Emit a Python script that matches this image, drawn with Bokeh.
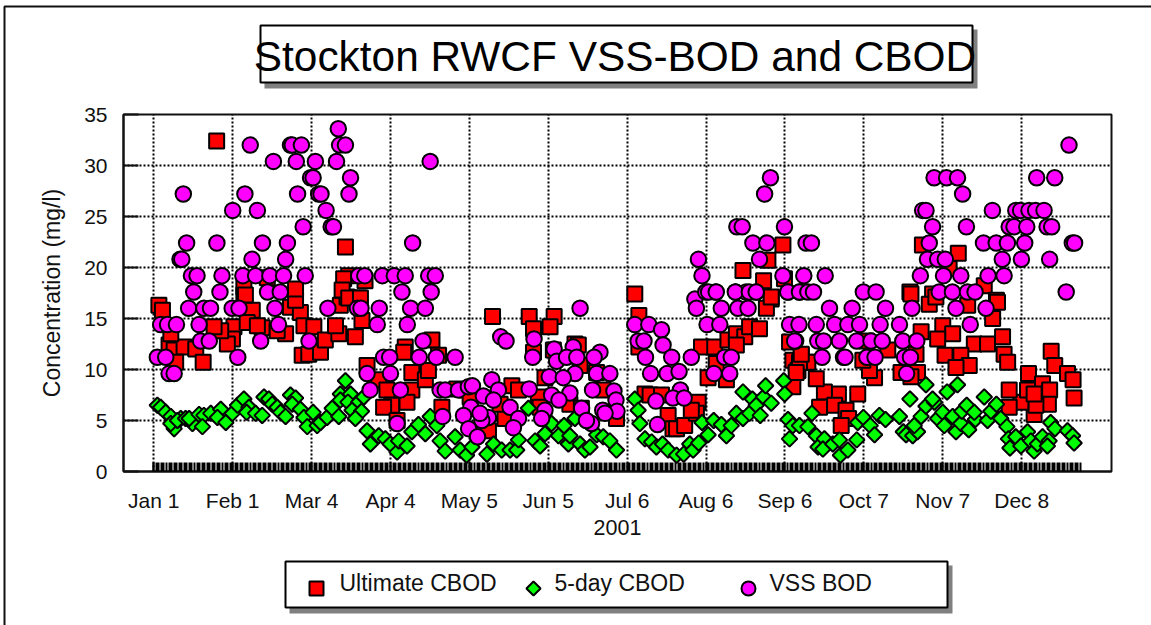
from bokeh.plotting import figure
from bokeh.embed import file_html
from bokeh.resources import INLINE
from bokeh.models import Range1d, FixedTicker
from bokeh.core.properties import value
import math

FONT = "Liberation Sans"

tick_days = [0, 31, 62, 93, 124, 155, 186, 217, 248, 279, 310, 341]
tick_names = ["Jan 1", "Feb 1", "Mar 4", "Apr 4", "May 5", "Jun 5", "Jul 6", "Aug 6", "Sep 6", "Oct 7", "Nov 7", "Dec 8"]
y_ticks = [0, 5, 10, 15, 20, 25, 30, 35]
sample_days = list(range(0, 365))

ucbod_day = [24.7, 75.3, 2, 3.4, 6, 8, 11.9, 16.5, 19.4, 8.6, 6.7, 35.4, 38.7, 31.5, 30.9, 28.9, 26.3, 23.7, 42.6, 36.7, 44.6, 53.7, 57.6, 55.7, 51.8, 48.5, 40.7, 59, 62.9, 58.3, 60.9, 65.5, 67.4, 72.7, 71.4, 79.2, 81.8, 73.3, 75.9, 80.5, 76.6, 74.6, 83, 74, 76.6, 81.2, 55.7, 35.4, 36,
             83.8, 88.4, 91.6, 93.5, 90.3, 101.4, 99.5, 98.8, 98.2, 101.4, 106.7, 107.9, 109.3, 111.9, 95.6, 113.2, 119, 123,
             133.1, 147.5, 157.3, 155.7, 149.2, 149.2, 157, 165.5, 166.8, 167.5, 153.7, 174, 140.7, 143.3, 151.1, 163.5, 168, 176.6, 181.8, 131.5, 138, 124.3, 136.1, 151.8,
             189, 190.6, 190.6, 193, 195, 199.5, 202.1, 204, 205.4, 208.6, 213.9, 213.2, 211.2, 215.2, 220.4, 217.8, 225, 221, 225.6, 228.9, 232.2, 234.1, 238, 228.9, 242.6, 240.7, 249.8, 251.1, 256.3, 254.4, 253.1, 251.1,
             247.2, 241.3, 231.5, 239.6, 247.8, 242.6, 297.1, 302, 316.1, 326.3, 331.1, 312.5, 306,
             297.5, 304.7, 307.3, 319.8, 331.5, 329.6, 310, 313.9, 308, 301.5, 322.4, 327.6, 333.5, 334.1, 310.9, 317.1, 320.4, 315.2, 335.5, 352.6, 354, 359, 361.2, 361.6, 343.7, 349.2, 352, 351.5, 345.9, 346.6, 340.7, 336.1, 336.1, 343.3, 345.9,
             276.6, 269, 263.5, 261.6, 267.5, 272, 273, 270.1, 283.2, 281.2, 278.6, 288.4, 279.9, 300.1, 297.5, 299.5, 293.6, 260.3, 257, 253.7, 252.4, 254.4]
ucbod_val = [32.4, 22, 16.3, 15.8, 12.4, 11.9, 12.2, 12, 10.7, 10.7, 13.5, 17.3, 15.8, 14.2, 13, 12.5, 13.8, 14.2, 14.1, 14.6, 19, 16.1, 15.6, 16.8, 13.5, 13.8, 14.3, 14.3, 14.2, 11.4, 11.5, 11.7, 12.9, 13.5, 14.3, 13.2, 14.8, 16.3, 17.1, 17, 19.2, 18.9, 18.7, 17.8, 17, 17, 17.9, 18.1, 17.3,
             10.4, 9, 8, 6.5, 6.3, 8, 6.8, 12.2, 11.7, 9.7, 9, 9.9, 12.9, 11.4, 5, 6.3, 8.1, 8,
             15.2, 15.2, 15.2, 14.2, 14, 11.7, 11.9, 12.5, 12.4, 10.4, 9.2, 9.7, 8.4, 8, 7.3, 6.6, 6.2, 8, 5.2, 4, 5.2, 7.3, 6.6, 6.3,
             17.4, 15.3, 12.2, 7.6, 7.5, 7.5, 5.5, 4.2, 4.2, 4.5, 6.8, 5.7, 6, 12.2, 12.2, 9.2, 9, 10.6, 12.9, 13.5, 13.2, 14.2, 14, 12.4, 16.9, 16, 12.7, 10.9, 10.7, 11.4, 9.9, 8.3,
             22.2, 20.7, 19.7, 18.7, 18.9, 17.1, 17.6, 22.2, 21.4, 18.2, 16.8, 19.9, 17.4,
             17.4, 16.4, 17.1, 16.3, 16.6, 15, 14.3, 13.5, 13, 13.7, 12.5, 12.5, 13.2, 11.5, 11.4, 11.4, 10.4, 10.2, 10.7, 11.8, 10.4, 9.6, 9, 7.2, 9.6, 8.6, 8, 6.6, 5.6, 6.5, 6.8, 6.3, 8, 8, 7.6,
             7.6, 7.6, 7.8, 6.3, 6.5, 6, 5.2, 4.5, 9.2, 9.9, 10.9, 11.9, 12.8, 9.7, 9.3, 11.5, 9.7, 9.1, 10.7, 10.7, 9.7, 11.5]

cbod5_day = [1.4, 2.7, 4.7, 6.7, 8, 6.7, 10.6, 9.3, 12.5, 15.2, 13.9, 17.8, 19.7, 19.1, 22.4, 26.3, 25, 28.3, 30.9, 32.9, 35.4, 37.4, 36.5, 40, 42.6, 43.3, 45.2, 46.5, 48.5, 49.8, 51.8, 53.7, 55.7, 54.4, 57.6, 59, 60.3, 62.6, 64.2, 65.5, 68.1, 70.1, 72.7, 75.3, 73.3, 73.3, 77.3, 76.3, 80.5, 82.5, 77.9, 81.6, 79.2, 83.8, 85.1, 88.4, 91, 92.9, 95.6, 96.2, 99.5, 101.4, 104, 106.7, 108.6, 111.2, 112.5, 114.5, 118.4, 120.4, 122.9, 125,
             130.9, 133.5, 136.7, 140, 142.6, 143.3, 147.2, 149.8, 151.8, 153.7, 156.3, 159, 161.2, 162.9, 163.5, 165.5, 167.5, 169.4, 171.4, 174, 176.6, 179.2, 181.8, 189, 190.3, 191, 193, 195.6, 197.5, 199.9, 202.1, 205.4, 208.2, 210.6, 211.9, 214.1, 215.4, 217.8, 220, 223, 225, 226.9, 228.9, 231.5, 231.5, 234.1, 235.2, 236.7, 238.3, 239.6, 240.4, 242.6,
             247.5, 247.9, 249.2, 249.8, 251.1, 253.7, 257, 258.6, 260.3, 261, 263.5, 262.9, 266.8, 269.4, 269.8, 272.7, 276.2, 276.6, 278.8, 281.5, 283.2, 285.1, 287.5, 293, 294.5, 295.6, 297.1, 298.2, 300.1, 298.8, 301.5, 303.4, 306.7, 306, 303.4, 311.7, 315.8, 308, 310, 310.6, 313.9, 315.2, 317.1, 317.5, 319.4, 320.2, 322.8, 322.4, 326.3, 327.6, 328.9, 331.1, 332.8, 335.2, 335.8, 336.4, 338.7, 340.7, 343.3, 344.6, 345.9, 347.2, 349.2, 351.8, 351.1, 352.4, 354.1, 359, 361, 361.6]
cbod5_val = [6.5, 6.3, 5.8, 5.4, 4.2, 4.7, 5.2, 5, 5.2, 4.7, 5.2, 5.6, 5.5, 4.4, 5.7, 6.1, 5.3, 4.8, 5.7, 6.5, 7.1, 6.3, 5.8, 5.7, 5.5, 7.3, 7.1, 6.6, 6.3, 5.8, 5.4, 7.5, 7.2, 6.6, 6.1, 5.3, 4.4, 5.8, 4.5, 4.8, 5.3, 6.2, 5.4, 8.9, 7.6, 7, 7.6, 6.8, 6.8, 7.3, 6, 5.9, 5.2, 4, 2.7, 3.5, 3.2, 2.7, 1.9, 3, 2.5, 3.9, 4.6, 3.7, 5.4, 4.5, 3, 2, 3.4, 2.1, 1.6, 2.4,
             1.7, 2.7, 2.1, 2.1, 2.1, 3.1, 6.2, 3, 2.5, 3.7, 4.7, 3.5, 4.5, 2.7, 3.5, 5.2, 2.7, 2.1, 2.4, 3.6, 3.4, 3, 2.1, 7.1, 6, 4.7, 3.2, 2.9, 2.4, 2.7, 2.1, 1.6, 1.7, 2.7, 2.1, 2.8, 4.8, 3.6, 5, 4.6, 3.5, 4.5, 5.7, 7.8, 5.2, 5.7, 7.1, 6.5, 5.5, 7.3, 8.4, 6.7,
             8.9, 7.6, 5.1, 3.2, 4.5, 4.5, 4.4, 5.7, 3.5, 2.4, 3.2, 2.2, 2.7, 3.1, 1.6, 2.1, 3.1, 4.8, 5.3, 4.5, 3.6, 5.5, 5.1, 5.4, 3.9, 3.6, 7.1, 3.5, 3.9, 4.5, 5.4, 6.4, 6.8, 7.1, 8.5, 7.8, 8.5, 5.2, 5.8, 4.5, 5.4, 3.9, 4.7, 5.9, 6.5, 4.1, 5.1, 5.8, 7.3, 5, 5.9, 6.6, 5.2, 4.4, 3.2, 2.3, 3.4, 2.5, 3.9, 3, 2, 2.7, 3.4, 3, 2.5, 4.8, 4.2, 4, 3.5, 2.8]

vss_day = [72.5, 37.9, 53.7, 54.4, 58, 73, 75.3, 47, 56, 63.5, 71.8, 108.6, 61.6, 62.6, 77.3, 11.6, 35.8, 56.5, 64.8, 65.7, 76.7, 31, 40.7, 67.7, 58.7, 69.7, 70.6, 12.9, 24.8, 42.7, 52.5, 101.7, 10.3, 11, 38.6, 51.8,
           14.8, 17, 26.8, 35, 40, 45.6, 51, 59.5, 80.5, 82.9, 89.8, 94.5, 98.8, 108, 110.6, 15.7, 26, 44.7, 49.7, 97.5, 109,
           13.7, 19.7, 22.3, 30.8, 33.5, 47.6, 68.4, 80, 81.4, 88.6, 100.9, 106.7, 2.7, 5.4, 8.9, 17.8, 49, 87.8, 99.6, 18.4, 21.8, 42, 61, 105.8,
           1.4, 4.7, 33, 90.3, 92.7, 104.3, 111, 118.4, 6, 8, 83.8, 93, 85, 96.9, 112.5, 113.5, 95.6, 114.5, 119.7, 123.6,
           167.5, 136.3, 138.4, 149.4, 148.9, 157.3, 158.3, 164.8, 162.2, 166.2, 175.3, 173, 165.5, 155.4, 160.9, 174, 179.2, 132.8, 125.2, 135.4, 147.5, 156.3, 163.5, 172.4, 180.8, 129.5, 133.5, 159.2, 181.6, 124.6, 140, 168.1, 153.7, 176.4, 182, 177.3, 131.5, 143.3, 152.4, 172, 170, 121.7, 128.9, 141.3, 123.7, 127.2, 128.2,
           189, 194.5, 199.5, 190.3, 192.6, 200.1, 193.2, 203.5, 211.2, 195.2, 201.7, 206.4, 206.9, 204, 208.4, 197.3, 197.9, 212.6, 213.2, 216.9, 220.8, 228.6, 232.7, 236.7, 223, 229.5, 233.5, 217.4, 222.4, 224.3, 226.9, 220.1, 226.3, 249.2, 253.7, 249.8, 253.5, 252.2,
           359.6, 242.3, 240, 306.6, 311.5, 315.8, 346.9, 354, 317.8, 302.1, 303.4, 329.5, 338.7, 340.6, 343.9, 346.5, 349.8, 229.1, 231.2, 247.8, 306, 319.3, 336.1, 338, 343, 351, 352.8,
           235.4, 240.9, 256.3, 258.4, 304.7, 326, 331, 335.4, 342.2, 360.9, 361.8, 214, 238, 304, 308, 311, 333.4, 340.9, 352, 215.4, 247.2, 255.4, 263.8, 301.2, 310.3, 317.1, 327.8, 334.1,
           218, 221, 228.5, 234, 236.7, 249.1, 253.7, 257, 259.2, 278.8, 283.8, 308.6, 313.8, 319.7, 322.7, 358.5,
           265.5, 274.4, 287.5, 297.9, 315.2, 327, 260.3, 267.5, 272.7, 277.3, 285.4, 293, 320.8, 251.8, 260.9, 263.2, 269.4, 276.2, 281.8, 286.2, 294.3, 299.8, 262.6, 271, 271.6, 280.2, 283.4, 295, 297.3, 295.8]
vss_val = [33.6, 32, 32, 32, 32, 32, 32, 30.4, 30.4, 30.4, 30.4, 30.4, 28.8, 28.8, 28.8, 27.2, 27.2, 27.2, 27.2, 27.2, 27.2, 25.6, 25.6, 25.6, 24, 24, 24, 22.4, 22.4, 22.4, 22.4, 22.4, 20.8, 20.8, 20.8, 20.8,
           19.2, 19.2, 19.2, 19.2, 19.2, 19.2, 19.2, 19.2, 19.2, 19.2, 19.2, 19.2, 19.2, 19.2, 19.2, 17.6, 17.6, 17.6, 17.6, 17.6, 17.6,
           16, 16, 16, 16, 16, 16, 16, 16, 16, 16, 16, 16, 14.4, 14.4, 14.4, 14.4, 14.4, 14.4, 14.4, 12.8, 12.8, 12.8, 12.8, 12.8,
           11.2, 11.2, 11.2, 11.2, 11.2, 11.2, 11.2, 11.2, 9.6, 9.6, 9.6, 9.6, 8, 8, 8, 5.4, 4.7, 8, 8, 8.3,
           16, 13.2, 12.8, 13, 11.2, 12, 10.8, 12.2, 11.2, 11.2, 11.7, 11.2, 9.6, 9.3, 9.2, 9.6, 9.6, 9, 8.4, 8, 8.1, 7.5, 7.7, 8, 7.9, 7.4, 7, 7, 7, 6.3, 6.3, 6.2, 6, 6, 5.9, 5.7, 5.3, 5.2, 5.2, 4.7, 5, 5.5, 5, 4.3, 4.2, 3.4, 5.7,
           14.4, 14.4, 13.9, 12.8, 12.8, 12.4, 11.2, 11.2, 11.2, 9.6, 9.6, 9.8, 8, 7.2, 7.2, 6.9, 4.6, 16.9, 16, 17.6, 17.6, 17.6, 17.6, 17.6, 16, 16, 16, 14.4, 14.4, 11.2, 11.2, 9.6, 9.6, 17.6, 17.6, 14.4, 14.4, 12.8,
           32, 28.8, 27.2, 28.8, 28.8, 28.8, 28.8, 28.8, 27.2, 25.6, 25.6, 25.6, 25.6, 25.6, 25.6, 25.6, 25.6, 24, 24, 24, 24, 24, 24, 24, 24, 24, 24,
           22.4, 22.4, 22.4, 22.4, 22.4, 22.4, 22.4, 22.4, 22.4, 22.4, 22.4, 20.8, 20.8, 20.8, 20.8, 20.8, 20.8, 20.8, 20.8, 19.2, 19.2, 19.2, 19.2, 19.2, 19.2, 19.2, 19.2, 19.2,
           17.6, 17.6, 17.6, 17.6, 17.6, 17.6, 17.6, 17.6, 17.6, 17.6, 17.6, 17.6, 17.6, 17.6, 17.6, 17.6,
           16, 16, 16, 16, 16, 16, 14.4, 14.4, 14.4, 14.4, 14.4, 14.4, 14.4, 12.8, 12.8, 12.8, 12.8, 12.8, 12.8, 12.8, 12.8, 12.8, 11.2, 11.2, 11.2, 11.2, 11.2, 11.2, 11.2, 9.6]

title_text = "Stockton RWCF VSS-BOD and CBOD"
x_label = "2001"
y_label = "Concentration (mg/l)"
series_names = ["Ultimate CBOD", "5-day CBOD", "VSS BOD"]

ABS = {"position": "absolute", "left": "0px", "top": "0px"}

p = figure(width=1151, height=625, output_backend="svg", toolbar_location=None,
           x_range=Range1d(-11.9, 376.3), y_range=Range1d(0, 35),
           min_border_left=123, min_border_right=40, min_border_top=114, min_border_bottom=154,
           background_fill_color="white", border_fill_color="white")
p.styles = ABS

p.outline_line_color = "#111111"
p.outline_line_width = 2

xa, ya = p.xaxis[0], p.yaxis[0]
xa.ticker = FixedTicker(ticks=tick_days, minor_ticks=sample_days)
xa.major_label_overrides = dict(zip(tick_days, tick_names))
ya.ticker = FixedTicker(ticks=y_ticks)
xa.axis_label, ya.axis_label = x_label, y_label
for ax in (xa, ya):
    ax.axis_line_color = "#111111"
    ax.axis_line_width = 2
    ax.major_tick_line_color = "#111111"
    ax.major_tick_line_width = 2
    ax.major_tick_out = 0
    ax.minor_tick_out = 0
    ax.major_label_text_font = FONT
    ax.major_label_text_font_size = "21px"
    ax.major_label_text_color = "#111111"
    ax.axis_label_text_font = FONT
    ax.axis_label_text_font_style = "normal"
    ax.axis_label_text_color = "#111111"
xa.major_tick_in = 9
xa.minor_tick_in = 9
xa.minor_tick_line_color = "#000000"
xa.minor_tick_line_width = 2
ya.major_tick_in = 15
ya.minor_tick_line_color = None
xa.major_label_standoff = 17
xa.axis_label_text_font_size = "21.5px"
xa.axis_label_standoff = 5
ya.major_label_standoff = 16
ya.axis_label_text_font_size = "23px"
ya.axis_label_standoff = 16

for g in (p.xgrid[0], p.ygrid[0]):
    g.grid_line_color = "black"
    g.grid_line_dash = "2 2"
    g.grid_line_width = 2

p.scatter(ucbod_day, ucbod_val, marker="square", size=15, fill_color="#ff0000", line_color="black", line_width=2)
p.scatter(cbod5_day, cbod5_val, marker="square", size=11, angle=math.pi / 4, fill_color="#00ff00", line_color="black", line_width=2)
p.scatter(vss_day, vss_val, marker="circle", size=15.5, fill_color="#ff00ff", line_color="black", line_width=2)

# Transparent full-page layer in page pixels: page frame, title box, legend box
o = figure(width=1151, height=625, output_backend="svg", toolbar_location=None,
           x_range=Range1d(0, 1151), y_range=Range1d(625, 0), x_axis_type=None, y_axis_type=None,
           min_border=0, outline_line_color=None, background_fill_color=None, border_fill_color=None)
o.styles = ABS
o.grid.visible = False

o.line([4, 4, 1151], [625, 6, 6], line_color="#111111", line_width=2)
o.quad(left=[264], right=[977], top=[29], bottom=[88], fill_color="#808080", line_color=None)
o.quad(left=[260], right=[972], top=[25], bottom=[82], fill_color="white", line_color="black", line_width=2)
o.quad(left=[289], right=[952], top=[565], bottom=[613], fill_color="#808080", line_color=None)
o.quad(left=[285], right=[947], top=[561], bottom=[607], fill_color="white", line_color="black", line_width=2)
o.text([614.5], [56], text=[title_text], text_align="center", text_baseline="alphabetic",
       text_font=value(FONT), text_font_size="42.4px", text_color="black")

o.scatter([316], [588], marker="square", size=14, fill_color="#ff0000", line_color="black", line_width=2)
o.scatter([533], [588], marker="square", size=10, angle=math.pi / 4, fill_color="#00ff00", line_color="black", line_width=2)
o.scatter([748], [588], marker="circle", size=14, fill_color="#ff00ff", line_color="black", line_width=2)
o.text([339, 554, 769], [582.5, 582.5, 582.5], text=series_names, text_align="left", text_baseline="alphabetic",
       text_font=value(FONT), text_font_size="23px", text_color="#111111")

open("out.html", "w").write(file_html([p, o], INLINE))
